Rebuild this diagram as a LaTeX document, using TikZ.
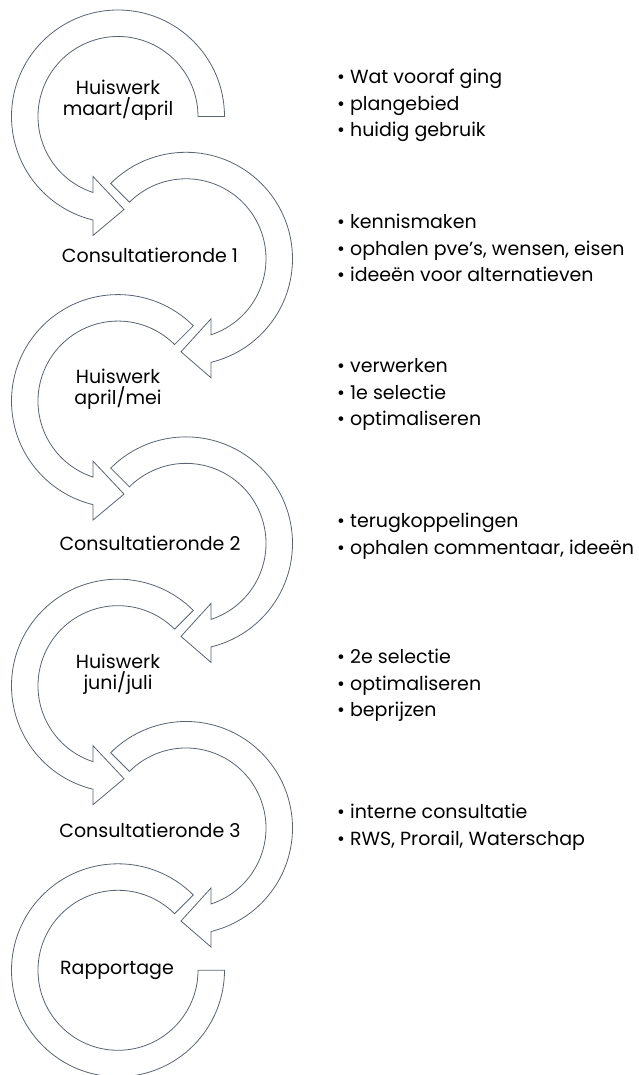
\documentclass[tikz,border=0pt]{standalone}
\usepackage{fontspec}
\setmainfont{Poppins}
\definecolor{linegray}{HTML}{5A6470}
\begin{document}
\begin{tikzpicture}[x=1pt,y=1pt,
  band/.style={draw=linegray,fill=white,line width=0.8pt,line join=miter},
  phase/.style={font=\fontsize{19}{21}\selectfont,align=center,inner sep=0pt},
  bulletline/.style={font=\fontsize{19}{21}\selectfont,anchor=base west,inner sep=0pt}]
\useasboundingbox (0,0) rectangle (639,1075);
% Huiswerk maart/april
\begin{scope}[shift={(118,958.5)}]
\draw[band] (0:106.5) arc[start angle=0,end angle=256.4,radius=106.5]
  -- (-25,-119) -- (6,-93) -- (-25,-60) -- (251.8:80)
  arc[start angle=251.8,end angle=0,radius=80] -- cycle;
\end{scope}
% Consultatieronde 1
\begin{scope}[shift={(186,816.2)}]
\draw[band] (135:106.5) arc[start angle=135,end angle=-76.4,radius=106.5]
  -- (25,-119) -- (-5,-93) -- (25,-60) -- (-71.8:80)
  arc[start angle=-71.8,end angle=135,radius=80] -- cycle;
\end{scope}
% Huiswerk april/mei
\begin{scope}[shift={(118,673.9)}]
\draw[band] (45:106.5) arc[start angle=45,end angle=256.4,radius=106.5]
  -- (-25,-119) -- (6,-93) -- (-25,-60) -- (251.8:80)
  arc[start angle=251.8,end angle=45,radius=80] -- cycle;
\end{scope}
% Consultatieronde 2
\begin{scope}[shift={(186,531.6)}]
\draw[band] (135:106.5) arc[start angle=135,end angle=-76.4,radius=106.5]
  -- (25,-119) -- (-5,-93) -- (25,-60) -- (-71.8:80)
  arc[start angle=-71.8,end angle=135,radius=80] -- cycle;
\end{scope}
% Huiswerk juni/juli
\begin{scope}[shift={(118,389.3)}]
\draw[band] (45:106.5) arc[start angle=45,end angle=256.4,radius=106.5]
  -- (-25,-119) -- (6,-93) -- (-25,-60) -- (251.8:80)
  arc[start angle=251.8,end angle=45,radius=80] -- cycle;
\end{scope}
% Consultatieronde 3
\begin{scope}[shift={(186,247)}]
\draw[band] (135:106.5) arc[start angle=135,end angle=-76.4,radius=106.5]
  -- (25,-119) -- (-5,-93) -- (25,-60) -- (-71.8:80)
  arc[start angle=-71.8,end angle=135,radius=80] -- cycle;
\end{scope}
% Rapportage
\begin{scope}[shift={(118,104.7)}]
\draw[band] (45:106.5) arc[start angle=45,end angle=360,radius=106.5]
  -- (0:80) arc[start angle=360,end angle=45,radius=80] -- cycle;
\end{scope}
% labels in the arrows
\node[phase] (hw1) at (118,975) {Huiswerk\\maart/april};
\node[phase] (cr1) at (150,820) {Consultatieronde 1};
\node[phase] (hw2) at (118,686) {Huiswerk\\april/mei};
\node[phase] (cr2) at (150,532) {Consultatieronde 2};
\node[phase] (hw3) at (118,401) {Huiswerk\\juni/juli};
\node[phase] (cr3) at (150,245) {Consultatieronde 3};
\node[phase] (rap) at (117,105) {Rapportage};
% bullet lists
\node[bulletline] (a1) at (337,991) {• Wat vooraf ging};
\node[bulletline] (a2) at (337,964.5) {• plangebied};
\node[bulletline] (a3) at (337,938) {• huidig gebruik};
\node[bulletline] (b1) at (337,846) {• kennismaken};
\node[bulletline] (b2) at (337,819.5) {• ophalen pve’s, wensen, eisen};
\node[bulletline] (b3) at (337,793) {• ideeën voor alternatieven};
\node[bulletline] (c1) at (337,702) {• verwerken};
\node[bulletline] (c2) at (337,675.5) {• 1e selectie};
\node[bulletline] (c3) at (337,649) {• optimaliseren};
\node[bulletline] (d1) at (337,547) {• terugkoppelingen};
\node[bulletline] (d2) at (337,520.5) {• ophalen commentaar, ideeën};
\node[bulletline] (e1) at (337,411) {• 2e selectie};
\node[bulletline] (e2) at (337,384.5) {• optimaliseren};
\node[bulletline] (e3) at (337,358) {• beprijzen};
\node[bulletline] (f1) at (337,256) {• interne consultatie};
\node[bulletline] (f2) at (337,229.5) {• RWS, Prorail, Waterschap};
\end{tikzpicture}
\end{document}
